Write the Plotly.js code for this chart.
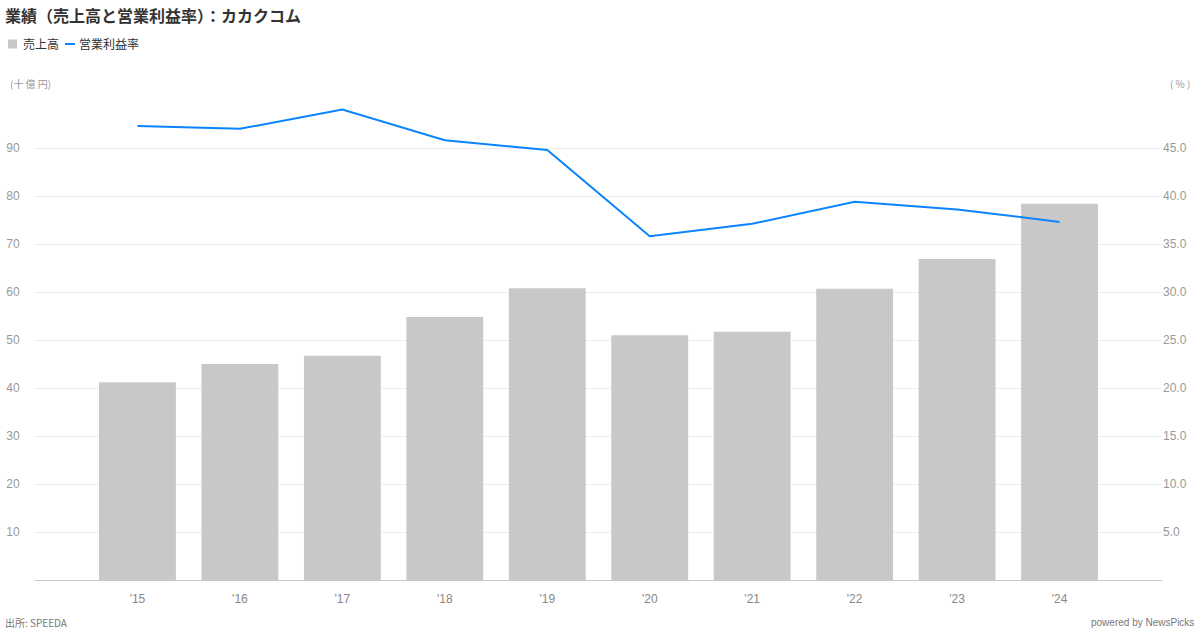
<!DOCTYPE html>
<html>
<head>
<meta charset="utf-8">
<script src="https://cdn.plot.ly/plotly-3.0.1.min.js"></script>
<style>html,body{margin:0;padding:0;background:#fff;}#chart{width:1200px;height:630px;}</style>
</head>
<body>
<div id="chart"></div>
<script>
const years = ["'15","'16","'17","'18","'19","'20","'21","'22","'23","'24"];
const sales = [41.2, 45.0, 46.7, 54.8, 60.8, 51.0, 51.7, 60.7, 66.9, 78.4];
const opMargin = [47.3, 47.0, 49.0, 45.8, 44.8, 35.8, 37.1, 39.4, 38.6, 37.3];
const leftTicks = [10,20,30,40,50,60,70,80,90];
const rightTicks = [5,10,15,20,25,30,35,40,45];

const FONT = "'Liberation Sans', Arial, 'Noto Sans CJK JP', sans-serif";
const JFONT = "'Noto Sans CJK JP', 'Liberation Sans', sans-serif";

const traces = [
  {type:'bar', x:years, y:sales, name:'売上高', marker:{color:'#c8c8c8'}, width:0.75, yaxis:'y', hoverinfo:'skip'},
  {type:'scatter', mode:'lines', x:years, y:opMargin, name:'営業利益率', line:{color:'#0a84ff', width:2}, yaxis:'y2', hoverinfo:'skip'}
];

function px(x){return x/1200;}
function py(y){return 1 - y/630;}
function pxp(x){return (x-35)/1127;}
function pyp(y){return (580-y)/480;}

const layout = {
  width:1200, height:630,
  margin:{l:35, r:38, t:100, b:50},
  paper_bgcolor:'#fff', plot_bgcolor:'#fff',
  showlegend:false,
  font:{family:FONT, color:'#999', size:12},
  title:{text:'業績（売上高と営業利益率）：カカクコム', font:{family:JFONT, size:16, color:'#333', weight:'bold'},
    xref:'container', yref:'container', x:px(5), y:py(16), xanchor:'left', yanchor:'middle'},
  xaxis:{type:'category', range:[-1,10], showgrid:false, showline:true, linecolor:'#c8c8c8', linewidth:1,
    ticks:'outside', ticklen:8, tickcolor:'rgba(0,0,0,0)', tickfont:{size:12, color:'#888'}, fixedrange:true},
  yaxis:{range:[0,100], tickvals:leftTicks, ticktext:leftTicks.map(String), showgrid:true, gridcolor:'#eeeeee', gridwidth:1,
    zeroline:false, showline:false, ticks:'outside', ticklen:12, tickcolor:'rgba(0,0,0,0)', tickfont:{size:12, color:'#999'}},
  yaxis2:{overlaying:'y', side:'right', range:[0,50], tickvals:rightTicks, ticktext:rightTicks.map(v=>v.toFixed(1)),
    showgrid:false, zeroline:false, showline:false, ticks:'', tickfont:{size:12, color:'#999'}},
  annotations:[
    {text:'売上高', xref:'paper', yref:'paper', x:pxp(21), y:pyp(44), xanchor:'left', yanchor:'middle', showarrow:false, font:{family:JFONT, size:12, color:'#333'}},
    {text:'営業利益率', xref:'paper', yref:'paper', x:pxp(77), y:pyp(44), xanchor:'left', yanchor:'middle', showarrow:false, font:{family:JFONT, size:12, color:'#333'}},
    {text:'(十 億 円)', xref:'paper', yref:'paper', x:pxp(8), y:pyp(84), xanchor:'left', yanchor:'middle', showarrow:false, font:{family:JFONT, size:10, color:'#999'}},
    {text:'( % )', xref:'paper', yref:'paper', x:pxp(1192), y:pyp(84), xanchor:'right', yanchor:'middle', showarrow:false, font:{family:JFONT, size:10, color:'#999'}},
    {text:'出所: SPEEDA', xref:'paper', yref:'paper', x:pxp(3), y:pyp(622), xanchor:'left', yanchor:'middle', showarrow:false, font:{family:JFONT, size:10, color:'#777'}},
    {text:'powered by NewsPicks', xref:'paper', yref:'paper', x:pxp(1196), y:pyp(622), xanchor:'right', yanchor:'middle', showarrow:false, font:{family:FONT, size:10, color:'#777'}}
  ],
  shapes:[
    {type:'rect', xref:'paper', yref:'paper', x0:pxp(8), x1:pxp(17), y0:pyp(48.5), y1:pyp(39.5), fillcolor:'#c8c8c8', line:{width:0}},
    {type:'line', xref:'paper', yref:'paper', x0:pxp(65), x1:pxp(75), y0:pyp(44), y1:pyp(44), line:{color:'#0a84ff', width:2}}
  ]
};

Plotly.newPlot('chart', traces, layout, {displayModeBar:false, staticPlot:true});
</script>
</body>
</html>
